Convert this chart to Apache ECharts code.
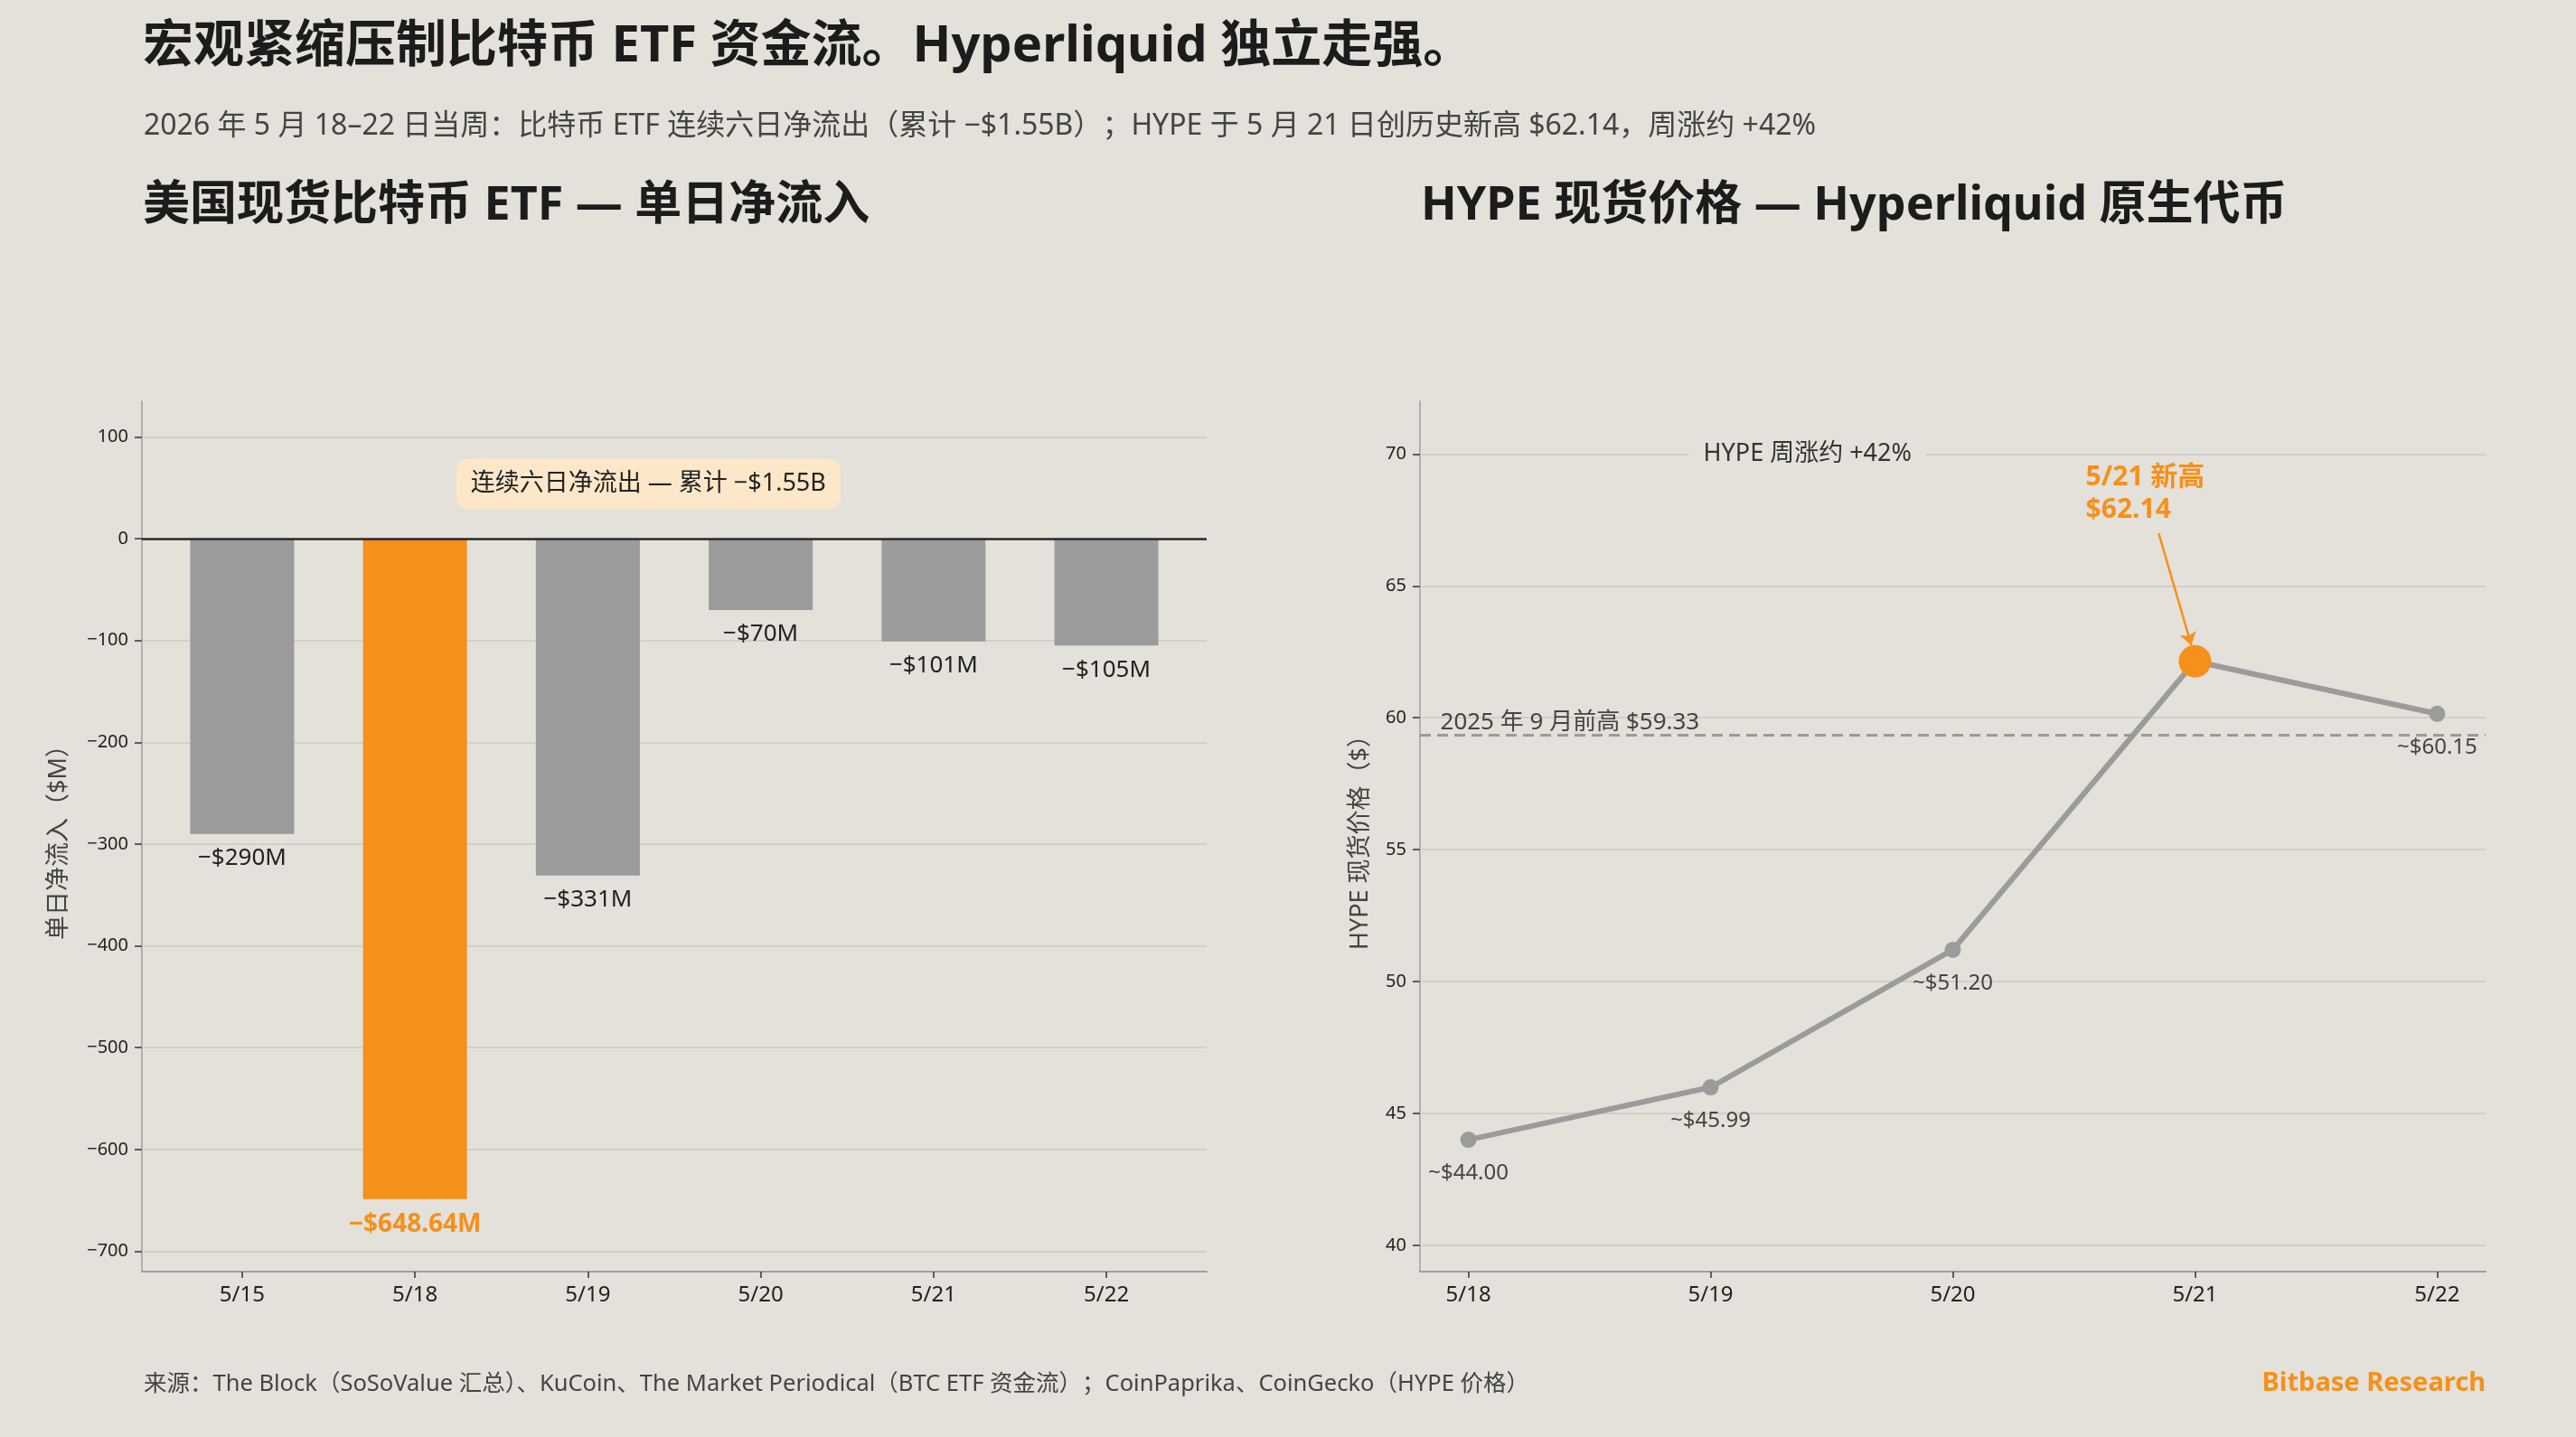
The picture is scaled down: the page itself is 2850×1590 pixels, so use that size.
<!DOCTYPE html>
<html><head><meta charset="utf-8">
<script src="https://cdn.jsdelivr.net/npm/echarts@6/dist/echarts.min.js"></script>
<style>html,body{margin:0;padding:0;background:#e4e0da;}#c{width:2850px;height:1590px;}</style>
</head><body><div id="c"></div>
<script>
// ---- data ----
const etfDates = ['5/15', '5/18', '5/19', '5/20', '5/21', '5/22'];
const etfFlows = [-290, -648.64, -331, -70, -101, -105];
const etfTicks = [100, 0, -100, -200, -300, -400, -500, -600, -700];
const etfHighlight = 1;

const hypeDates = ['5/18', '5/19', '5/20', '5/21', '5/22'];
const hypePrices = [44.00, 45.99, 51.20, 62.14, 60.15];
const hypeTicks = [40, 45, 50, 55, 60, 65, 70];
const hypeHighlight = 3;
const priorHigh = 59.33;

const mainTitle = '宏观紧缩压制比特币 ETF 资金流。Hyperliquid 独立走强。';
const subTitle = '2026 年 5 月 18–22 日当周：比特币 ETF 连续六日净流出（累计 −$1.55B）；HYPE 于 5 月 21 日创历史新高 $62.14，周涨约 +42%';
const leftTitle = '美国现货比特币 ETF — 单日净流入';
const rightTitle = 'HYPE 现货价格 — Hyperliquid 原生代币';
const footer = '来源：The Block（SoSoValue 汇总）、KuCoin、The Market Periodical（BTC ETF 资金流）；CoinPaprika、CoinGecko（HYPE 价格）';
const brand = 'Bitbase Research';
const etfNote = '连续六日净流出 — 累计 −$1.55B';
const hypeNote = 'HYPE 周涨约 +42%';
const peakNote = '5/21 新高\n$62.14';
const priorNote = '2025 年 9 月前高 $59.33';

// ---- style ----
const FONT = '"Noto Sans", "Noto Sans CJK SC", sans-serif';
const BG = '#e4e0da';
const ORANGE = '#f5911a';
const GRAY = '#9b9b9b';
const GRIDC = '#d3cec7';
const AXISC = '#a3a09b';

const chart = echarts.init(document.getElementById('c'), null, {renderer: 'canvas'});

function xAxisCfg(grid, cats, min, max) {
  const idx = cats.map((_, i) => i);
  return {
    type: 'value', gridIndex: grid, min: min, max: max,
    splitLine: {show: false},
    axisLine: {show: true, onZero: false, lineStyle: {color: AXISC, width: 2}},
    axisTick: {show: true, customValues: idx, length: 7, lineStyle: {color: '#333', width: 1.5}},
    axisLabel: {customValues: idx, formatter: v => cats[Math.round(v)], fontSize: 24, color: '#222', margin: 14, fontFamily: FONT}
  };
}
function yAxisCfg(grid, ticks, min, max, name, gap) {
  return {
    type: 'value', gridIndex: grid, min: min, max: max,
    splitLine: {show: false},
    axisLine: {show: true, onZero: false, lineStyle: {color: AXISC, width: 1.5}},
    axisTick: {show: true, customValues: ticks, length: 8, lineStyle: {color: '#333', width: 1.5}},
    axisLabel: {customValues: ticks, formatter: v => String(v).replace('-', '−'), fontSize: 20, color: '#222', margin: 15, fontFamily: FONT},
    name: name, nameLocation: 'middle', nameGap: gap,
    nameTextStyle: {fontSize: 27, color: '#444', fontFamily: FONT}
  };
}
const gridLines = ticks => ({
  silent: true, z: 1, symbol: ['none', 'none'], label: {show: false},
  lineStyle: {color: GRIDC, width: 2, type: 'solid'},
  emphasis: {disabled: true},
  data: ticks.filter(t => t !== 0).map(t => ({yAxis: t}))
});

const option = {
  backgroundColor: BG,
  animation: false,
  textStyle: {fontFamily: FONT},
  title: [
    {text: mainTitle, left: 158, top: 24, padding: 0, textStyle: {fontSize: 56, fontWeight: 'bold', color: '#1c1c1c', fontFamily: FONT}},
    {text: subTitle, left: 159, top: 124, padding: 0, textStyle: {fontSize: 32, fontWeight: 'normal', color: '#444', fontFamily: FONT}},
    {text: leftTitle, left: 158, top: 202, padding: 0, textStyle: {fontSize: 52, fontWeight: 'bold', color: '#1c1c1c', fontFamily: FONT}},
    {text: rightTitle, left: 1572, top: 202, padding: 0, textStyle: {fontSize: 52, fontWeight: 'bold', color: '#1c1c1c', fontFamily: FONT}},
    {text: footer, left: 159, top: 1519, padding: 0, textStyle: {fontSize: 25.5, fontWeight: 'normal', color: '#444', fontFamily: FONT}},
    {text: brand, right: 100, top: 1516, padding: 0, textStyle: {fontSize: 29, fontWeight: 'bold', color: ORANGE, fontFamily: FONT}}
  ],
  grid: [
    {left: 157, top: 444, right: 1515, bottom: 183},
    {left: 1571, top: 444, right: 100, bottom: 183}
  ],
  xAxis: [
    xAxisCfg(0, etfDates, -0.58, 5.58),
    xAxisCfg(1, hypeDates, -0.2, 4.2)
  ],
  yAxis: [
    yAxisCfg(0, etfTicks, -720, 135, '单日净流入（$M）', 78),
    yAxisCfg(1, hypeTicks, 39, 72, 'HYPE 现货价格（$）', 52)
  ],
  series: [
    {
      type: 'bar', xAxisIndex: 0, yAxisIndex: 0, z: 3, barWidth: 115,
      data: etfFlows.map((v, i) => ({
        value: [i, v],
        itemStyle: {color: i === etfHighlight ? ORANGE : GRAY},
        label: i === etfHighlight ? {color: ORANGE, fontWeight: 'bold', fontSize: 28} : {}
      })),
      label: {show: true, position: 'bottom', distance: 14, fontSize: 26, color: '#222', fontFamily: FONT,
        formatter: p => '−$' + Math.abs(p.value[1]) + 'M'},
      emphasis: {disabled: true},
      markLine: gridLines(etfTicks)
    },
    {
      type: 'line', xAxisIndex: 0, yAxisIndex: 0, data: [], z: 5,
      markLine: {silent: true, z: 6, symbol: ['none', 'none'], label: {show: false}, emphasis: {disabled: true},
        data: [{yAxis: 0, lineStyle: {color: '#2a2a2a', width: 2.5, type: 'solid'}}]},
      markPoint: {silent: true, z: 6, emphasis: {disabled: true},
        data: [{coord: [2.35, 54], symbol: 'rect', symbolSize: 1, itemStyle: {color: 'rgba(0,0,0,0)'},
          label: {show: true, position: 'inside', formatter: etfNote, fontSize: 27, color: '#222', fontFamily: FONT,
            backgroundColor: '#fde7c9', borderRadius: 12, padding: [14, 16]}}]}
    },
    {
      type: 'line', xAxisIndex: 1, yAxisIndex: 1, z: 3, symbol: 'circle', symbolSize: 18,
      lineStyle: {color: GRAY, width: 6},
      itemStyle: {color: GRAY},
      data: hypePrices.map((v, i) => ({
        value: [i, v],
        symbolSize: i === hypeHighlight ? 36 : 18,
        itemStyle: {color: i === hypeHighlight ? ORANGE : GRAY},
        label: i === hypeHighlight ? {show: false} : {}
      })),
      label: {show: true, position: 'bottom', distance: 16, fontSize: 24, color: '#444', fontFamily: FONT,
        formatter: p => '~$' + p.value[1].toFixed(2)},
      emphasis: {disabled: true},
      markLine: gridLines(hypeTicks)
    },
    {
      type: 'line', xAxisIndex: 1, yAxisIndex: 1, data: [], z: 5,
      markLine: {silent: true, z: 4, symbol: ['none', 'none'], label: {show: false}, emphasis: {disabled: true},
        data: [
          {yAxis: priorHigh, lineStyle: {color: '#9a9a9a', width: 3, type: [12, 7]}},
          [{coord: [2.85, 67.0], lineStyle: {color: ORANGE, width: 2.5, type: 'solid'}},
           {coord: [2.985, 62.75], symbol: 'arrow', symbolSize: 14}]
        ]},
      markPoint: {silent: true, z: 6, emphasis: {disabled: true},
        data: [
          {coord: [2.549, 68.5], symbol: 'rect', symbolSize: 1, itemStyle: {color: 'rgba(0,0,0,0)'},
            label: {show: true, position: 'inside', align: 'left', verticalAlign: 'middle', formatter: peakNote,
              fontSize: 30, lineHeight: 36, fontWeight: 'bold', color: ORANGE, fontFamily: FONT}},
          {coord: [1.4, 70], symbol: 'rect', symbolSize: 1, itemStyle: {color: 'rgba(0,0,0,0)'},
            label: {show: true, position: 'inside', formatter: hypeNote, fontSize: 27, color: '#333', fontFamily: FONT,
              backgroundColor: BG, padding: [4, 16]}},
          {coord: [-0.116, 59.82], symbol: 'rect', symbolSize: 1, itemStyle: {color: 'rgba(0,0,0,0)'},
            label: {show: true, position: 'inside', align: 'left', verticalAlign: 'middle', formatter: priorNote,
              fontSize: 26, color: '#444', fontFamily: FONT}}
        ]}
    }
  ]
};
chart.setOption(option);
</script>
</body></html>
